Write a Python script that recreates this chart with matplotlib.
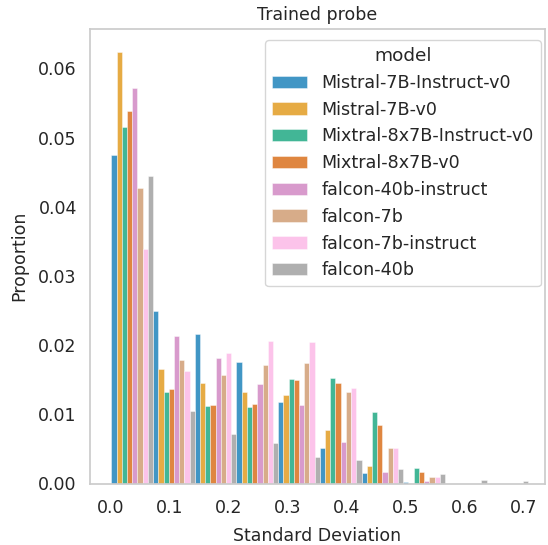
import numpy as np
import matplotlib
matplotlib.use("Agg")
import matplotlib.pyplot as plt
import seaborn as sns

models = ["Mistral-7B-Instruct-v0", "Mistral-7B-v0", "Mixtral-8x7B-Instruct-v0",
          "Mixtral-8x7B-v0", "falcon-40b-instruct", "falcon-7b",
          "falcon-7b-instruct", "falcon-40b"]

bin_edges = np.linspace(0.0015, 0.7085, 11)

# proportion per bin (10 bins) for each model
mistral_7b_instruct = [0.0475, 0.0250, 0.0216, 0.0176, 0.0118, 0.0051, 0.0015, 0.0002, 0.0, 0.0]
mistral_7b = [0.0624, 0.0165, 0.0145, 0.0132, 0.0128, 0.0078, 0.0025, 0.0, 0.0, 0.0]
mixtral_instruct = [0.0516, 0.0132, 0.0112, 0.0110, 0.0151, 0.0152, 0.0103, 0.0023, 0.0, 0.0]
mixtral = [0.0538, 0.0137, 0.0113, 0.0115, 0.0149, 0.0145, 0.0085, 0.0017, 0.0, 0.0]
falcon_40b_instruct = [0.0572, 0.0213, 0.0181, 0.0144, 0.0113, 0.0060, 0.0017, 0.0003, 0.0, 0.0]
falcon_7b = [0.0427, 0.0179, 0.0157, 0.0171, 0.0174, 0.0132, 0.0052, 0.0009, 0.0, 0.0]
falcon_7b_instruct = [0.0339, 0.0163, 0.0188, 0.0206, 0.0204, 0.0138, 0.0052, 0.0009, 0.0, 0.0]
falcon_40b = [0.0445, 0.0105, 0.0071, 0.0058, 0.0039, 0.0034, 0.0021, 0.0014, 0.0005, 0.0004]

series = [mistral_7b_instruct, mistral_7b, mixtral_instruct, mixtral,
          falcon_40b_instruct, falcon_7b, falcon_7b_instruct, falcon_40b]

sns.set_theme(style="whitegrid")
plt.rcParams['font.family'] = ['DejaVu Sans']
colors = sns.color_palette("colorblind", len(models))

fig = plt.figure(figsize=(5.48, 5.45), dpi=100)
ax = fig.add_axes([90/548, 1 - 483.5/545, 455/548, (483.5 - 28.5)/545])

left = bin_edges[:-1]
width = np.diff(bin_edges)
n = len(models)
for j, (name, vals) in enumerate(zip(models, series)):
    ax.bar(left + j * width / n, vals, width=width / n, align="edge",
           color=colors[j], alpha=0.75, edgecolor="white", linewidth=0.4,
           label=name)

ax.grid(False)
ax.set_xlim(-0.0348, 0.7368)
ax.set_ylim(0, 0.06578)
ax.set_xticks([0.0, 0.1, 0.2, 0.3, 0.4, 0.5, 0.6, 0.7])
ax.set_yticks([0.0, 0.01, 0.02, 0.03, 0.04, 0.05, 0.06])
ax.set_yticklabels(["0.00", "0.01", "0.02", "0.03", "0.04", "0.05", "0.06"])
ax.tick_params(labelsize=12.5, colors=".15")
ax.tick_params(axis="x", pad=5.5)
ax.set_xlabel("Standard Deviation", fontsize=12.5, color=".15", labelpad=7)
ax.set_ylabel("Proportion", fontsize=12.5, color=".15", labelpad=7)
ax.set_title("Trained probe", fontsize=12.5, color=".15")
for s in ax.spines.values():
    s.set_color(".8")
    s.set_linewidth(1.25)

leg = ax.legend(title="model", loc="upper right", fontsize=12.65, title_fontsize=13.3,
                labelspacing=0.5, borderaxespad=0,
                bbox_to_anchor=(540.7/548, 1 - 40/545),
                bbox_transform=fig.transFigure)

fig.savefig("out.png", dpi=100)
